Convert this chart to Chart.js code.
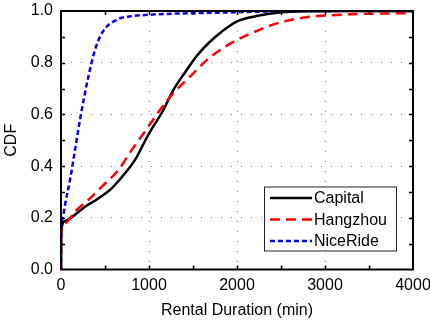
<!DOCTYPE html>
<html>
<head>
<meta charset="utf-8">
<script src="https://cdn.jsdelivr.net/npm/chart.js@4/dist/chart.umd.min.js"></script>
<style>
  html, body { margin: 0; padding: 0; background: #fff; }
  #wrap { width: 430px; height: 324px; }
</style>
</head>
<body>
<div id="wrap"><canvas id="cdf"></canvas></div>
<script>
// values
const capitalX = [0, 3, 45, 122, 273, 424, 576, 727, 841, 936, 1011, 1163, 1276, 1409, 1542, 1693, 1826, 1996, 2186, 2413, 2600, 2900, 3200, 4000];
const capitalY = [0, 0.153, 0.187, 0.202, 0.243, 0.275, 0.314, 0.372, 0.424, 0.485, 0.532, 0.617, 0.694, 0.762, 0.826, 0.881, 0.92, 0.959, 0.978, 0.991, 0.997, 0.999, 1.0, 1.0];

const hangzhouX = [0, 3, 45, 159, 310, 462, 652, 803, 936, 1125, 1276, 1466, 1656, 1807, 2034, 2261, 2451, 2773, 3265, 3600, 4000];
const hangzhouY = [0, 0.14, 0.179, 0.224, 0.269, 0.32, 0.385, 0.462, 0.525, 0.617, 0.682, 0.746, 0.81, 0.849, 0.894, 0.928, 0.952, 0.975, 0.987, 0.99, 0.992];

const niceRideX = [0, 3, 20, 45, 102, 159, 216, 311, 386, 450, 519, 600, 670, 800, 974, 1300, 1730, 2200, 2600, 4000];
const niceRideY = [0, 0.15, 0.2, 0.25, 0.346, 0.462, 0.58, 0.746, 0.849, 0.905, 0.939, 0.96, 0.972, 0.98, 0.985, 0.99, 0.993, 0.997, 1.0, 1.0];

const seriesNames = ["Capital", "Hangzhou", "NiceRide"];
const xTicks = [0, 1000, 2000, 3000, 4000];
const yTicks = [0, 0.2, 0.4, 0.6, 0.8, 1.0];

const FONT = "'Liberation Sans', Arial, Helvetica, sans-serif";

function toPoints(xs, ys) {
    return xs.map((x, i) => ({ x: x, y: ys[i] }));
}

// box around the plot, inward minor ticks on every side, legend in the corner
const framePlugin = {
    id: "frame",
    afterDraw(chart) {
        const ctx = chart.ctx;
        const a = chart.chartArea;
        const xs = chart.scales.x;
        const ys = chart.scales.y;
        ctx.save();
        ctx.strokeStyle = "#000";
        ctx.lineWidth = 1.5;
        for (let v = 500; v < 4000; v += 500) {
            const px = Math.round(xs.getPixelForValue(v)) + 0.5;
            ctx.beginPath();
            ctx.moveTo(px, a.bottom); ctx.lineTo(px, a.bottom - 4);
            ctx.moveTo(px, a.top); ctx.lineTo(px, a.top + 4);
            ctx.stroke();
        }
        for (let k = 1; k < 10; k++) {
            const py = Math.round(ys.getPixelForValue(k / 10)) + 0.5;
            ctx.beginPath();
            ctx.moveTo(a.left, py); ctx.lineTo(a.left + 4, py);
            ctx.moveTo(a.right, py); ctx.lineTo(a.right - 4, py);
            ctx.stroke();
        }
        ctx.lineWidth = 2;
        ctx.strokeRect(a.left, a.top, a.right - a.left, a.bottom - a.top);

        // legend
        const bx = a.right - 149, by = a.bottom - 83, bw = 132, bh = 64;
        ctx.fillStyle = "#fff";
        ctx.fillRect(bx, by, bw, bh);
        ctx.lineWidth = 1;
        ctx.strokeStyle = "#222";
        ctx.strokeRect(bx + 0.5, by + 0.5, bw, bh);
        ctx.font = "16px " + FONT;
        ctx.textBaseline = "middle";
        ctx.textAlign = "left";
        chart.data.datasets.forEach((ds, i) => {
            const ly = by + 11.5 + i * 21.5;
            ctx.beginPath();
            ctx.strokeStyle = ds.borderColor;
            ctx.lineWidth = ds.borderWidth;
            ctx.setLineDash(ds.borderDash || []);
            ctx.moveTo(bx + 6, ly);
            ctx.lineTo(bx + 48, ly);
            ctx.stroke();
            ctx.setLineDash([]);
            ctx.fillStyle = "#000";
            ctx.fillText(ds.label, bx + 50, ly + 1);
        });
        ctx.restore();
    }
};

new Chart(document.getElementById("cdf"), {
    type: "scatter",
    data: {
        datasets: [{
            label: seriesNames[0],
            data: toPoints(capitalX, capitalY),
            showLine: true,
            borderColor: "#000000",
            borderWidth: 2.5,
            pointRadius: 0,
            cubicInterpolationMode: "monotone",
            order: 3
        }, {
            label: seriesNames[1],
            data: toPoints(hangzhouX, hangzhouY),
            showLine: true,
            borderColor: "#ff0000",
            borderWidth: 2.5,
            borderDash: [10, 6],
            pointRadius: 0,
            cubicInterpolationMode: "monotone",
            order: 2
        }, {
            label: seriesNames[2],
            data: toPoints(niceRideX, niceRideY),
            showLine: true,
            borderColor: "#0000ff",
            borderWidth: 2.5,
            borderDash: [5, 3],
            pointRadius: 0,
            cubicInterpolationMode: "monotone",
            order: 1
        }]
    },
    options: {
        responsive: true,
        maintainAspectRatio: false,
        animation: false,
        events: [],
        layout: { padding: { left: 0, right: 17, top: 11, bottom: 0 } },
        plugins: {
            legend: { display: false },
            tooltip: { enabled: false }
        },
        scales: {
            x: {
                type: "linear",
                min: 0,
                max: 4000,
                afterBuildTicks: scale => { scale.ticks = xTicks.map(v => ({ value: v })); },
                afterFit: scale => { scale.height = 54.5; scale.paddingRight = 17; scale.paddingLeft = 0; },
                ticks: {
                    color: "#000",
                    font: { family: FONT, size: 16 },
                    padding: 6,
                    maxRotation: 0,
                    callback: v => String(v)
                },
                grid: { color: "#808080", lineWidth: 1, drawTicks: false },
                border: { display: false, dash: [1, 9] },
                title: {
                    display: true,
                    text: "Rental Duration (min)",
                    color: "#000",
                    font: { family: FONT, size: 16 },
                    padding: { top: 0, bottom: 4 }
                }
            },
            y: {
                type: "linear",
                min: 0,
                max: 1,
                afterBuildTicks: scale => { scale.ticks = yTicks.map(v => ({ value: v })); },
                afterFit: scale => { scale.width = 61; scale.paddingTop = 0; scale.paddingBottom = 0; },
                ticks: {
                    color: "#000",
                    font: { family: FONT, size: 16 },
                    padding: 8,
                    callback: v => Number(v).toFixed(1)
                },
                grid: { color: "#808080", lineWidth: 1, drawTicks: false },
                border: { display: false, dash: [1, 9] },
                title: {
                    display: true,
                    text: "CDF",
                    color: "#000",
                    font: { family: FONT, size: 16 },
                    padding: { top: 1.5, bottom: 0 }
                }
            }
        }
    },
    plugins: [framePlugin]
});
</script>
</body>
</html>
